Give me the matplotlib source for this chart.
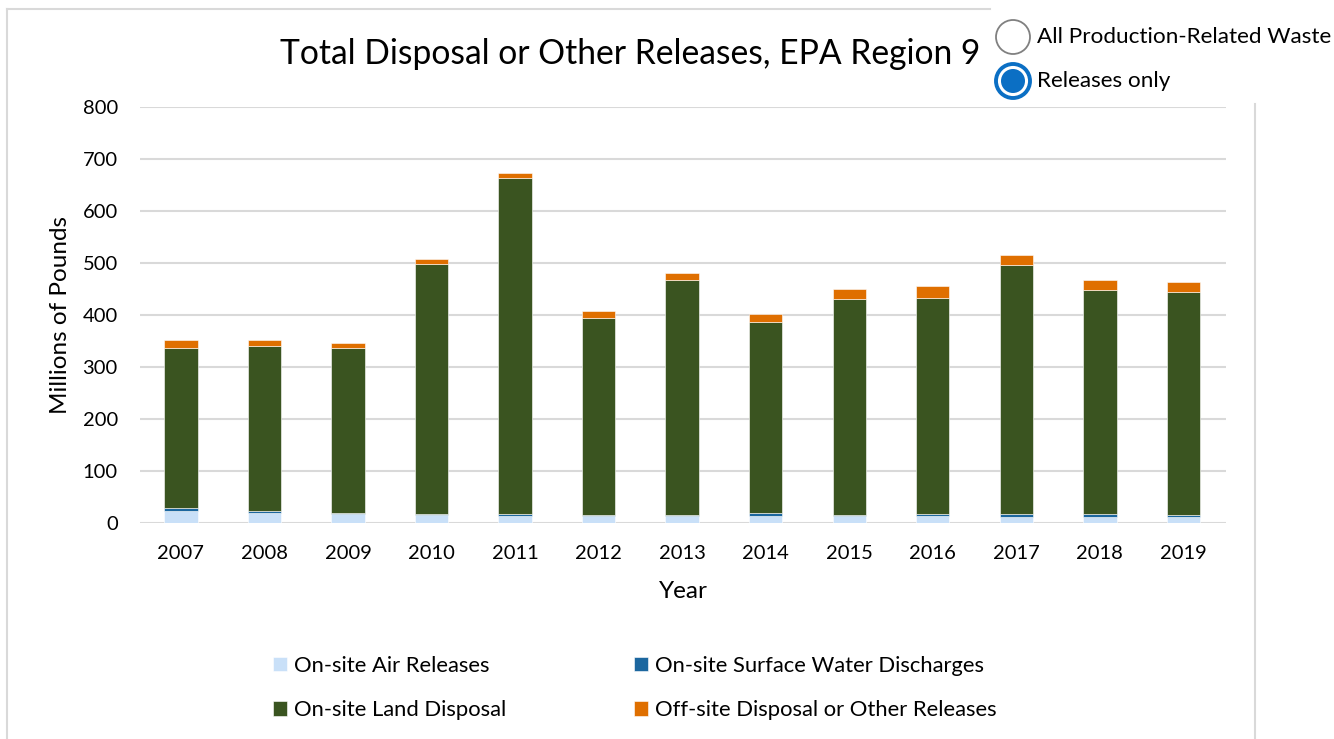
import matplotlib
matplotlib.use("Agg")
import matplotlib.pyplot as plt
from matplotlib.patches import Circle
from matplotlib.lines import Line2D
import numpy as np

plt.rcParams['font.family'] = ['Lato', 'DejaVu Sans']

years = ["2007", "2008", "2009", "2010", "2011", "2012", "2013",
         "2014", "2015", "2016", "2017", "2018", "2019"]
air = [22.5, 19, 16, 14, 13, 12, 12, 13, 12, 12.5, 11.5, 11.5, 10.5]
water = [6, 3.5, 2.5, 2.5, 3.5, 3, 3, 4.5, 3, 4, 4, 5.5, 4]
land = [307.5, 317.5, 317.5, 481, 646.5, 379, 452, 368.5, 415.4, 416.5, 480.5, 431, 429.5]
offsite = [15, 11, 9, 9, 10.5, 14, 13, 15, 18.6, 22, 19, 18, 19]

series_names = ["On-site Air Releases", "On-site Surface Water Discharges",
                "On-site Land Disposal", "Off-site Disposal or Other Releases"]
colors = ["#c9e0f8", "#1c679f", "#3a5420", "#df6f00"]

W, H = 1334, 739
fig = plt.figure(figsize=(W / 100, H / 100), dpi=100)

ax = fig.add_axes([140 / W, 1 - 522.5 / H, (1226 - 140) / W, (522.5 - 107) / H])
x = np.arange(len(years))
bw = 0.4
bottom = np.zeros(len(years))
handles = []
for vals, c, name in zip([air, water, land, offsite], colors, series_names):
    v = np.array(vals, dtype=float)
    b = ax.bar(x, v, bw, bottom=bottom, color=c, edgecolor="white", linewidth=0.4,
               label=name, zorder=3)
    bottom += v
    handles.append(b)

ax.set_xlim(-0.49, 12.51)
ax.set_ylim(0, 800)
ax.set_yticks(np.arange(0, 801, 100))
ax.set_xticks(x)
ax.set_xticklabels(years)
ax.yaxis.grid(True, color="#d9d9d9", linewidth=1.5, zorder=0)
ax.set_axisbelow(True)
for s in ax.spines.values():
    s.set_visible(False)
ax.tick_params(axis="both", length=0, labelsize=14.5, colors="black")
ax.tick_params(axis="x", pad=16)
ax.tick_params(axis="y", pad=16)
ax.set_xlabel("Year", fontsize=17.5, labelpad=14)
ax.set_ylabel("Millions of Pounds", fontsize=17.5, labelpad=8)

fig.text(630 / W, 1 - 54 / H, "Total Disposal or Other Releases, EPA Region 9",
         ha="center", va="center", fontsize=24.2)

# legend
order = [0, 2, 1, 3]
leg = fig.legend([handles[i] for i in order], [series_names[i] for i in order],
                 ncol=2, loc="upper left", bbox_to_anchor=(253 / W, 1 - 636 / H),
                 frameon=False, fontsize=15.8, handlelength=0.65, handleheight=0.65,
                 handletextpad=0.3, columnspacing=5.85, labelspacing=1.12)

# overlay for frame and radio buttons
ov = fig.add_axes([0, 0, 1, 1], zorder=10)
ov.set_xlim(0, W)
ov.set_ylim(H, 0)
ov.axis("off")
ov.patch.set_alpha(0)
fc = "#d9d9d9"
ov.add_line(Line2D([7, 7], [9, H], color=fc, linewidth=1.5))
ov.add_line(Line2D([7, 990], [9, 9], color=fc, linewidth=1.5))
ov.add_line(Line2D([1255, 1255], [104, H], color=fc, linewidth=1.5))

ov.add_patch(Circle((1013, 37), 17, facecolor="white", edgecolor="#808080", linewidth=1.3))
ov.add_patch(Circle((1013, 81), 17, facecolor="white", edgecolor="#0b6fc4", linewidth=2.8))
ov.add_patch(Circle((1013, 81), 12, facecolor="#0b6fc4", edgecolor="none"))
ov.text(1037, 37, "All Production-Related Waste", ha="left", va="center", fontsize=16.2)
ov.text(1037, 81, "Releases only", ha="left", va="center", fontsize=16.2)

fig.savefig("out.png", dpi=100)
